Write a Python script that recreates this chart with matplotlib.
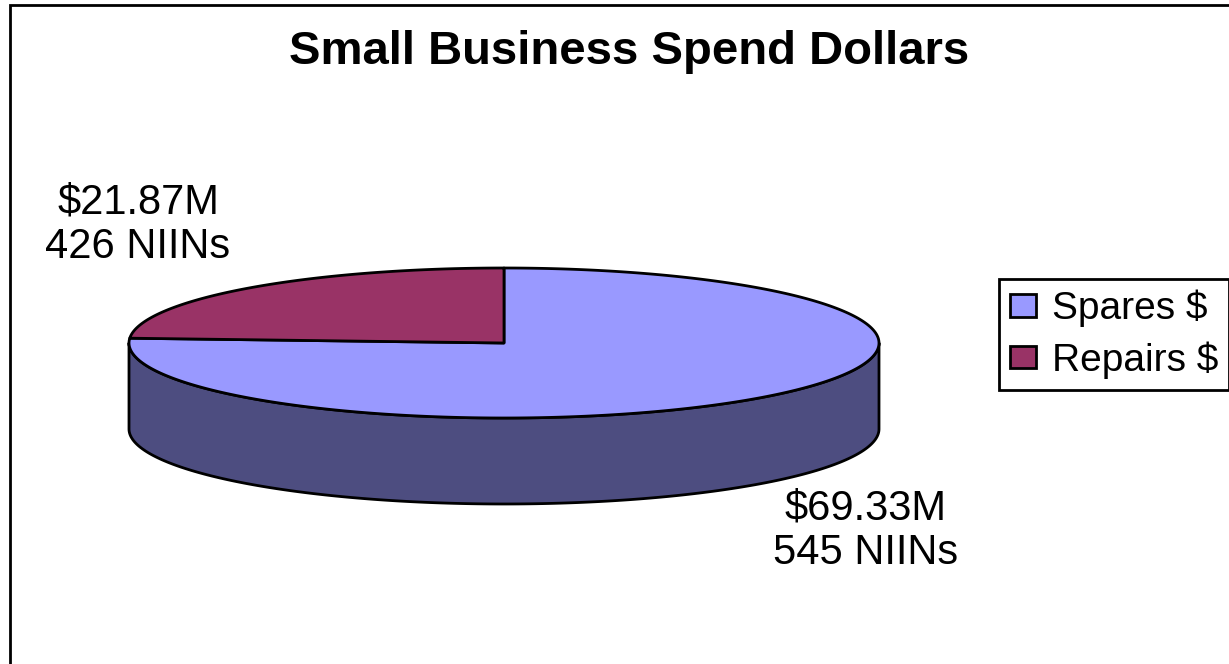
import numpy as np
import matplotlib
matplotlib.use('Agg')
import matplotlib.pyplot as plt
import matplotlib.patches as mpatches

plt.rcParams.update({
    'font.family': ['Liberation Sans', 'DejaVu Sans'],
})

# --- data ---
categories = ['Spares $', 'Repairs $']
spend_m = [69.33, 21.87]          # $ millions
niins = [545, 426]
top_colors = ['#9999FF', '#993366']
side_colors = ['#4D4D80', '#4D1A33']

W, H = 1229, 664
fig = plt.figure(figsize=(W / 100, H / 100), dpi=100)
ax = fig.add_axes([0, 0, 1, 1])
ax.set_xlim(0, W)
ax.set_ylim(H, 0)
ax.axis('off')

# chart area frame (runs off the right and bottom edges)
fig.add_artist(mpatches.Rectangle((10 / W, -0.1), 2.0, 1.1 - 5 / H,
                                  transform=fig.transFigure, fill=False,
                                  edgecolor='black', linewidth=2.0))

fig.text(629 / W, 1 - 64 / H, 'Small Business Spend Dollars',
         ha='center', va='baseline', fontsize=34, fontweight='bold')

# --- 3D-looking pie (Excel style), clockwise from 12 o'clock ---
cx, cy, rx, ry, depth = 504, 343, 375, 75, 86


def pt(t):
    return cx + rx * np.cos(t), cy - ry * np.sin(t)


fracs = np.array(spend_m) / sum(spend_m)
edges = 90 - 360 * np.concatenate([[0], np.cumsum(fracs)])   # degrees, decreasing

# front side walls (visible for angles in [-180, 0])
for i in range(len(fracs)):
    hi, lo = edges[i], edges[i + 1]
    a, b = max(lo, -180), min(hi, 0)
    if b <= a:
        continue
    t = np.radians(np.linspace(a, b, 200))
    x, y = pt(t)
    xs = np.concatenate([x, x[::-1]])
    ys = np.concatenate([y, (y + depth)[::-1]])
    ax.fill(xs, ys, facecolor=side_colors[i], edgecolor='black',
            linewidth=2.0, joinstyle='round')

# top faces
for i in range(len(fracs)):
    t = np.radians(np.linspace(edges[i], edges[i + 1], 300))
    x, y = pt(t)
    ax.fill(np.concatenate([[cx], x]), np.concatenate([[cy], y]),
            facecolor=top_colors[i], edgecolor='black', linewidth=2.0,
            joinstyle='round')

# data labels
label_pos = [(866, 520, 564), (138, 213, 258)]
for i, (lx, y1, y2) in enumerate(label_pos):
    ax.text(lx, y1, f'${spend_m[i]:.2f}M', ha='center', va='baseline',
            fontsize=30)
    ax.text(lx, y2, f'{niins[i]} NIINs', ha='center', va='baseline',
            fontsize=30)

# legend (clipped by the right edge, as in the original)
handles = [mpatches.Patch(facecolor=c, edgecolor='black', linewidth=2.0, label=l)
           for c, l in zip(top_colors, categories)]
leg = fig.legend(handles=handles, loc='upper left',
                 bbox_to_anchor=(999 / W, 1 - 279 / H),
                 bbox_transform=fig.transFigure, borderaxespad=0,
                 fontsize=28, frameon=True, fancybox=False, framealpha=1,
                 edgecolor='black', handlelength=0.67, handleheight=0.51,
                 handletextpad=0.4, borderpad=0.28, labelspacing=0.36)
leg.get_frame().set_linewidth(2.0)

fig.savefig('out.png', dpi=100)
